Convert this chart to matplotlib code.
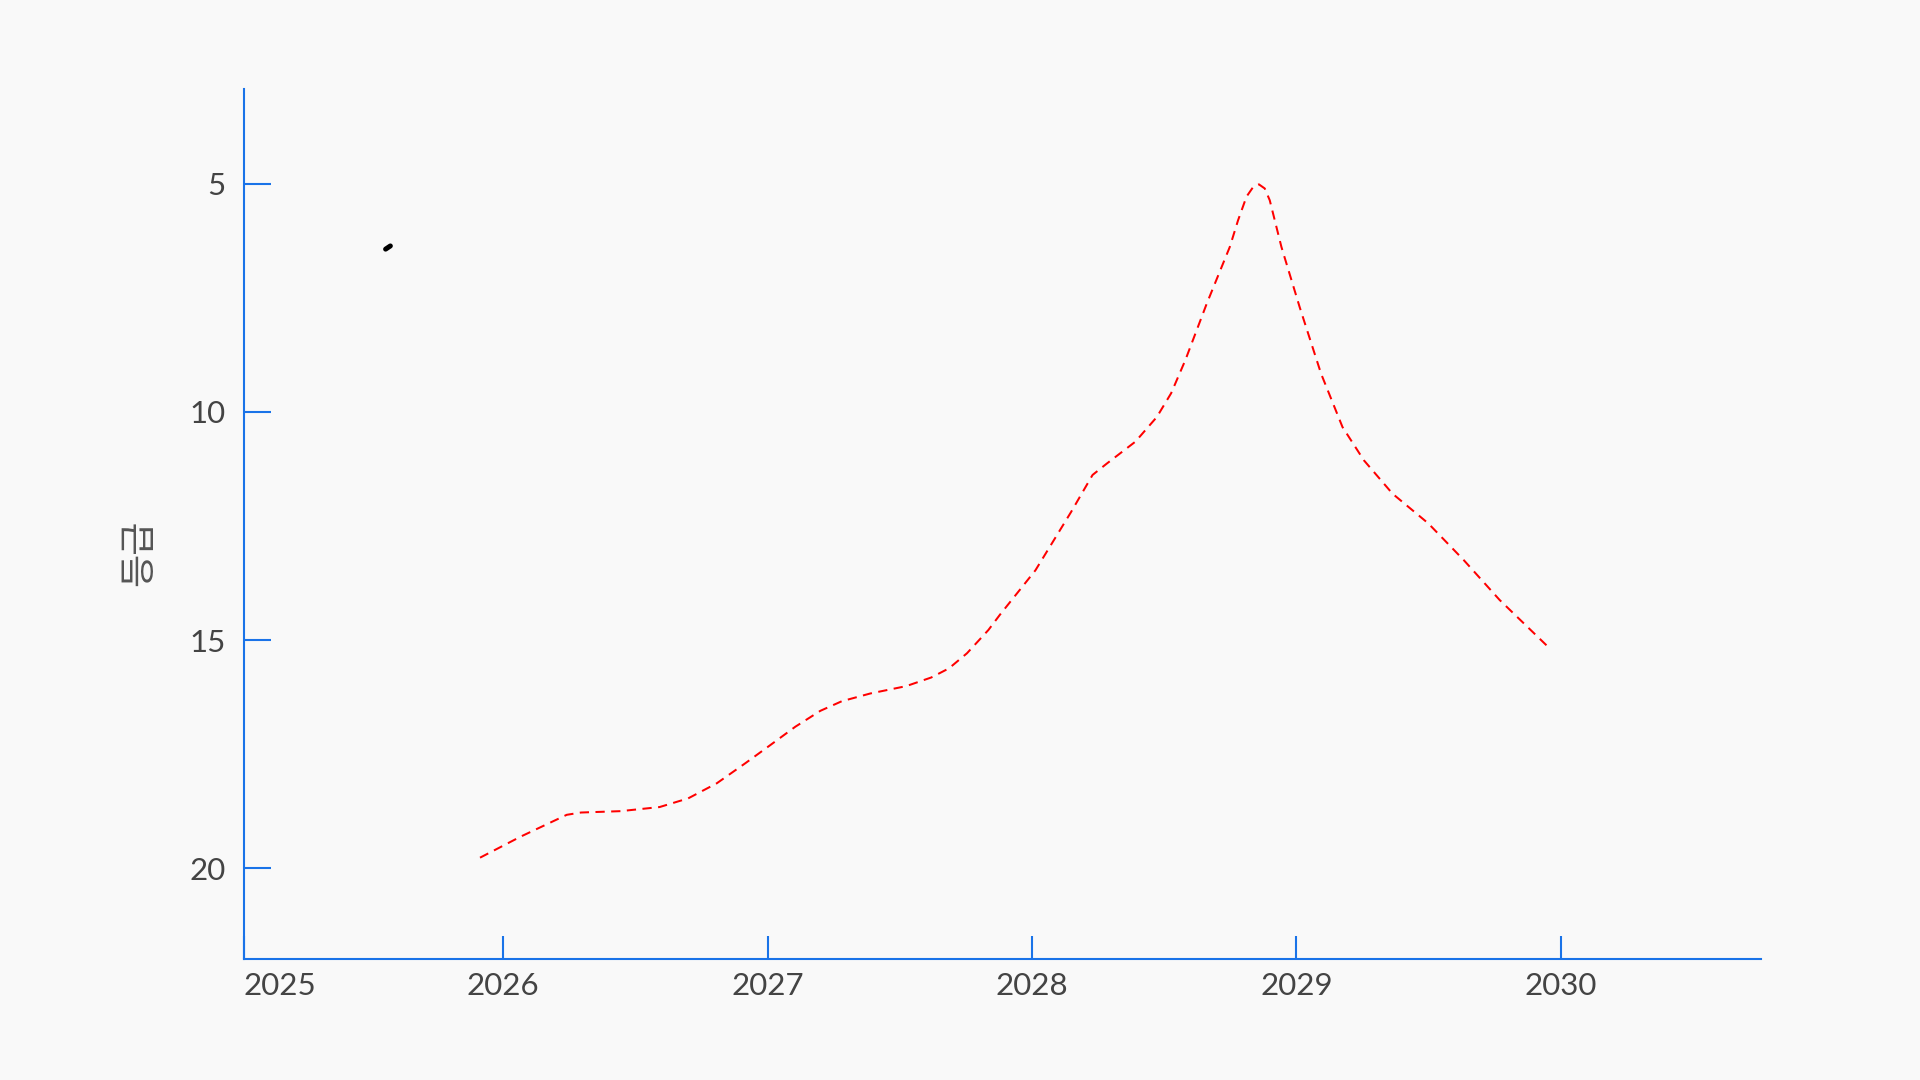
import matplotlib.pyplot as plt

# rank by decimal year
years = [2025.913, 2026.066, 2026.241, 2026.295, 2026.444, 2026.592, 2026.700,
         2026.808, 2026.916, 2027.011, 2027.105, 2027.200, 2027.281, 2027.389,
         2027.524, 2027.619, 2027.686, 2027.754, 2027.835, 2027.878, 2028.013,
         2028.148, 2028.229, 2028.283, 2028.391, 2028.472, 2028.526, 2028.580,
         2028.661, 2028.748, 2028.779, 2028.811, 2028.836, 2028.858, 2028.880,
         2028.899, 2028.918, 2028.943, 2029.012,
         2029.093, 2029.174, 2029.255, 2029.363, 2029.498, 2029.633, 2029.768,
         2029.957]
rank = [19.77, 19.31, 18.83, 18.78, 18.75, 18.66, 18.47,
        18.14, 17.70, 17.30, 16.90, 16.55, 16.34, 16.17,
        16.01, 15.82, 15.62, 15.29, 14.78, 14.45, 13.47,
        12.19, 11.38, 11.13, 10.65, 10.11, 9.59, 8.86,
        7.62, 6.38, 5.80, 5.28, 5.07, 5.01, 5.10,
        5.36, 5.80, 6.38, 7.70,
        9.16, 10.33, 11.06, 11.79, 12.44, 13.25, 14.12,
        15.18]

# stray black mark near the top left
dot_year = [2025.556, 2025.574]
dot_rank = [6.43, 6.36]

year_ticks = [2026, 2027, 2028, 2029, 2030]
rank_ticks = [5, 10, 15, 20]

bg = '#f9f9f9'
blue = '#1a73e8'
txt = '#444444'

fig = plt.figure(figsize=(19.2, 10.8), dpi=100, facecolor=bg)
ax = fig.add_axes([0.127, 0.1125, 0.79, 0.8055])
ax.set_facecolor(bg)

ax.plot(years, rank, color='#ff0000', lw=1.45, linestyle=(0, (4.6, 3.2)))
ax.plot(dot_year, dot_rank, color='black', lw=3.6, solid_capstyle='round')

xmin, xmax = 2025.020, 2030.755
ax.set_xlim(xmin, xmax)
ax.set_ylim(21.98, 2.91)

ax.set_xticks([xmin] + year_ticks)
ax.set_xticklabels(['2025'] + [str(y) for y in year_ticks])
ax.get_xticklabels()[0].set_ha('left')
ax.set_yticks(rank_ticks)
ax.set_yticklabels([str(r) for r in rank_ticks])

for s in ['top', 'right']:
    ax.spines[s].set_visible(False)
for s in ['left', 'bottom']:
    ax.spines[s].set_color(blue)
    ax.spines[s].set_linewidth(1.5)

ax.tick_params(axis='x', direction='in', length=16.5, width=1.5, color=blue,
               pad=10, labelsize=22.5, labelcolor=txt)
ax.tick_params(axis='y', direction='in', length=19.5, width=1.5, color=blue,
               pad=13, labelsize=22.5, labelcolor=txt)
for lab in ax.get_xticklabels() + ax.get_yticklabels():
    lab.set_family('Lato')
ax.get_xticklabels()[0].set_x(xmin - 0.008)

fig.text(0.0727, 0.4885, '등급', family=['Noto Sans CJK KR', 'DejaVu Sans'],
         fontsize=26, color='#555555', rotation=90, ha='center', va='center')

fig.savefig('out.png', dpi=100, facecolor=bg)
